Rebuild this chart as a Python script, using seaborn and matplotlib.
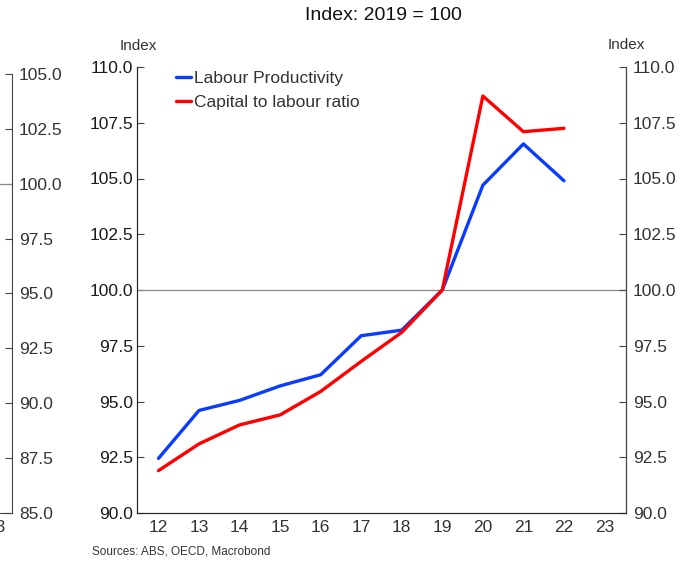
import numpy as np
import pandas as pd
import seaborn as sns
import matplotlib.pyplot as plt
from matplotlib.ticker import FixedLocator, NullFormatter

# data (index, 2019 = 100)
years = [12, 13, 14, 15, 16, 17, 18, 19, 20, 21, 22]
labour_productivity = [92.45, 94.6, 95.05, 95.7, 96.2, 97.95, 98.2, 100.0, 104.7, 106.55, 104.9]
capital_labour = [91.9, 93.1, 93.95, 94.4, 95.45, 96.8, 98.1, 100.0, 108.7, 107.1, 107.25]
series_names = ["Labour Productivity", "Capital to labour ratio"]
year_labels = [str(y) for y in range(12, 24)]
main_yticks = [90.0, 92.5, 95.0, 97.5, 100.0, 102.5, 105.0, 107.5, 110.0]
left_yticks = [85.0, 87.5, 90.0, 92.5, 95.0, 97.5, 100.0, 102.5, 105.0]

data = pd.concat([
    pd.DataFrame({"year": years, "value": labour_productivity, "series": series_names[0]}),
    pd.DataFrame({"year": years, "value": capital_labour, "series": series_names[1]}),
], ignore_index=True)

sns.set_style("white")
plt.rcParams['font.family'] = ['Liberation Sans', 'DejaVu Sans']

W, H = 686, 561
fig = plt.figure(figsize=(W / 100, H / 100), dpi=100)
text_col = "#333333"
spine_col = "#444444"

def px_axes(x0, y0, x1, y1):
    # axes from pixel box (top-left origin)
    return fig.add_axes([x0 / W, 1 - y1 / H, (x1 - x0) / W, (y1 - y0) / H])

# partial panel on the far left (right-hand axis of neighbouring chart)
axl = px_axes(-478, 74, 12, 513)
axl.axhline(100, color="#888888", lw=0.9)
axl.set_xlim(11.5, 23.4)
axl.set_ylim(85, 105)
axl.yaxis.tick_right()
axl.set_yticks(left_yticks)
axl.set_yticklabels([f"{v:.1f}" for v in left_yticks], fontsize=12.5, color=text_col)
axl.tick_params(axis="y", direction="in", length=5, color=spine_col, pad=5)
# only the last year label of that panel peeks into view
axl.set_xticks([23])
axl.set_xticklabels(year_labels[-1:], fontsize=12.5, color=text_col)
axl.tick_params(axis="x", length=0, pad=5)
for s in ["top", "left"]:
    axl.spines[s].set_visible(False)
for s in ["right", "bottom"]:
    axl.spines[s].set_color(spine_col)

# main panel
ax = px_axes(137, 67, 626, 513)
ax.axhline(100, color="#888888", lw=0.9, zorder=1)
sns.lineplot(data=data, x="year", y="value", hue="series", ax=ax,
             palette=["#0a3cff", "#ff0000"], linewidth=2.4, estimator=None, sort=False)
ax.set_xlim(11.47, 23.53)
ax.set_ylim(90, 110)
ax.set_xlabel("")
ax.set_ylabel("")
ax.set_yticks(main_yticks)
ax.set_yticklabels([f"{v:.1f}" for v in main_yticks], fontsize=12.5, color="#1a1a1a")
ax.tick_params(axis="y", direction="in", length=5, color=spine_col, pad=3)
ax.set_xticks(range(12, 24))
ax.set_xticklabels(year_labels, fontsize=12.5, color=text_col)
ax.tick_params(axis="x", which="major", length=0, pad=5)
ax.xaxis.set_minor_locator(FixedLocator(np.arange(12.5, 23, 1.0)))
ax.xaxis.set_minor_formatter(NullFormatter())
ax.tick_params(axis="x", which="minor", direction="in", length=5, color=spine_col)
ax.spines["top"].set_visible(False)
for s in ["left", "right", "bottom"]:
    ax.spines[s].set_color(spine_col)

axr = ax.twinx()
axr.set_ylim(90, 110)
axr.set_yticks(main_yticks)
axr.set_yticklabels([f"{v:.1f}" for v in main_yticks], fontsize=12.5, color=text_col)
axr.tick_params(axis="y", direction="in", length=5, color=spine_col, pad=5)
axr.spines["top"].set_visible(False)
axr.spines["right"].set_color(spine_col)

handles, labels = ax.get_legend_handles_labels()
ax.legend(handles, labels, loc="upper left", bbox_to_anchor=(160 / W, 1 - 55 / H),
          bbox_transform=fig.transFigure, frameon=False, fontsize=12.5,
          handlelength=0.9, handletextpad=0.15, labelspacing=0.55, labelcolor=text_col)

fig.text(383 / W, 1 - 15 / H, "Index: 2019 = 100", ha="center", va="center",
         fontsize=14, color="#111111")
fig.text(138 / W, 1 - 46 / H, "Index", ha="center", va="center", fontsize=11, color=text_col)
fig.text(626 / W, 1 - 45 / H, "Index", ha="center", va="center", fontsize=11, color=text_col)
fig.text(92 / W, 1 - 552 / H, "Sources: ABS, OECD, Macrobond", ha="left", va="center",
         fontsize=8.5, color=text_col)

fig.savefig("out.png", dpi=100)
